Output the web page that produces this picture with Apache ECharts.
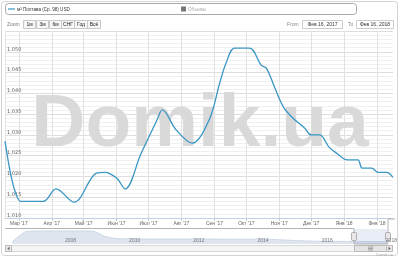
<!DOCTYPE html>
<html><head><meta charset="utf-8">
<script src="https://cdn.jsdelivr.net/npm/echarts@6/dist/echarts.min.js"></script>
<style>html,body{margin:0;padding:0;background:#fff}#c{width:400px;height:258px}</style>
</head><body><div id="c"></div>
<script>
// ---- data ----
const monthNames = ['Янв','Фев','Мар','Апр','Май','Июн','Июл','Авг','Сен','Окт','Ноя','Дек'];
const priceDates = ['2017-02-16','2017-02-21','2017-02-26','2017-03-03','2017-03-24','2017-04-05','2017-04-22',
  '2017-05-13','2017-05-21','2017-06-01','2017-06-09','2017-06-24','2017-07-09','2017-07-14','2017-07-27',
  '2017-08-11','2017-08-27','2017-09-06','2017-09-12','2017-09-20','2017-10-04','2017-10-15','2017-10-20',
  '2017-10-28','2017-11-05','2017-11-14','2017-11-25','2017-12-01','2017-12-09','2017-12-18','2017-12-25',
  '2018-01-04','2018-01-14','2018-01-18','2018-01-27','2018-02-02','2018-02-10','2018-02-16'];
const priceValues = [1028.5,1021,1016,1014,1014,1017,1013.8,
  1020.8,1021,1019.6,1017,1025.5,1033.6,1036,1031.2,
  1028,1033.6,1042.5,1047.3,1050.9,1050.9,1046.8,1046,
  1041.2,1036.7,1034,1031.6,1030,1030,1027,1025.6,
  1024,1024,1022,1022,1021,1021,1019.8];
const navYears = [2006.45,2006.9,2007.5,2008.5,2008.95,2009.35,2009.7,2010.5,2011.5,2012.5,2013.5,2014.3,2015.2,2016.0,2017.0,2018.13];
const navValues = [15,84,87,87,86,50,36,33,33,33,32,32,24,18,17,16];
const navYearTicks = [2008,2010,2012,2014,2016,2018];
const legendName = 'м² Полтава (Ср. 98) USD';
const zoomButtons = ['1м','3м','6м','СНГ','Год','Всё'];
const fromText = 'Фев 16, 2017';
const toText = 'Фев 16, 2018';

// daily categories
const categories = [];
for (let t = Date.UTC(2017,1,16); t <= Date.UTC(2018,1,16); t += 86400000) {
  categories.push(new Date(t).toISOString().slice(0,10));
}
const isMonthStart = (i, v) => v.slice(8) === '01';
const fmtNum = v => Math.floor(v/1000) + ',' + String(v % 1000).padStart(3,'0');

const F = 'Liberation Sans, Arial, sans-serif';
const btnX = [23,36,49,61,74,87], btnW = [12,12,12,13,13,13];
const graphic = [
  {type:'rect', shape:{x:1.5,y:1.5,width:396,height:254,r:3}, style:{fill:'none',stroke:'#d4d4d4',lineWidth:1}, z:-10},
  // legend box
  {type:'rect', shape:{x:5.5,y:3.5,width:351,height:11,r:3}, style:{fill:'#fff',stroke:'#a8a8a8',lineWidth:1}},
  {type:'line', shape:{x1:8,y1:9,x2:15,y2:9}, style:{stroke:'#3a96c3',lineWidth:1.2}},
  {type:'text', style:{text:legendName,x:17,y:9.5,fill:'#333',fontSize:4.6,fontFamily:F,align:'left',verticalAlign:'middle'}},
  {type:'rect', shape:{x:181,y:6.5,width:5,height:5}, style:{fill:'#777'}},
  {type:'text', style:{text:'Объемы',x:188,y:9.5,fill:'#aaa',fontSize:4.6,fontFamily:F,align:'left',verticalAlign:'middle'}},
  // zoom buttons
  {type:'text', style:{text:'Zoom',x:7,y:24.5,fill:'#777',fontSize:5,fontFamily:F,align:'left',verticalAlign:'middle'}},
  // from / to
  {type:'text', style:{text:'From',x:287,y:24.5,fill:'#888',fontSize:5,fontFamily:F,align:'left',verticalAlign:'middle'}},
  {type:'rect', shape:{x:302.5,y:20.5,width:40,height:8}, style:{fill:'#fff',stroke:'#ccc',lineWidth:1}},
  {type:'text', style:{text:fromText,x:322.5,y:24.5,fill:'#333',fontSize:5,fontFamily:F,align:'center',verticalAlign:'middle'}},
  {type:'text', style:{text:'To',x:348,y:24.5,fill:'#888',fontSize:5,fontFamily:F,align:'left',verticalAlign:'middle'}},
  {type:'rect', shape:{x:356.5,y:20.5,width:37,height:8}, style:{fill:'#fff',stroke:'#ccc',lineWidth:1}},
  {type:'text', style:{text:toText,x:375,y:24.5,fill:'#333',fontSize:5,fontFamily:F,align:'center',verticalAlign:'middle'}},
  // watermark
  {type:'text', z:1, silent:true, style:{text:'Domik.ua',x:200,y:125,fill:'#d9d9d9',fontSize:75,fontWeight:'bold',fontFamily:F,align:'center',verticalAlign:'middle'}},
  // navigator mask and outline
  {type:'rect', z:5, shape:{x:354,y:229,width:33,height:15}, style:{fill:'rgba(102,133,194,0.15)'}},
  {type:'polyline', z:6, shape:{points:[[5,228.5],[354,228.5],[354,244],[388,244],[388,219],[395,219]]}, style:{fill:'none',stroke:'#b2b1b6',lineWidth:1}},
  {type:'rect', z:7, shape:{x:351.5,y:232.5,width:5,height:8,r:1}, style:{fill:'#ebe7e8',stroke:'#a0a0a0',lineWidth:0.8}},
  {type:'rect', z:7, shape:{x:385.5,y:232.5,width:5,height:8,r:1}, style:{fill:'#ebe7e8',stroke:'#a0a0a0',lineWidth:0.8}},
  // scrollbar
  {type:'rect', shape:{x:5.5,y:245.5,width:387,height:6}, style:{fill:'#f4f4f4',stroke:'#d8d8d8',lineWidth:1}},
  {type:'rect', shape:{x:5.5,y:245.5,width:6,height:6}, style:{fill:'#ebe7e8',stroke:'#bbb',lineWidth:1}},
  {type:'polygon', shape:{points:[[9.5,246.8],[9.5,250.2],[7.3,248.5]]}, style:{fill:'#666'}},
  {type:'rect', shape:{x:386.5,y:245.5,width:6,height:6}, style:{fill:'#ebe7e8',stroke:'#bbb',lineWidth:1}},
  {type:'polygon', shape:{points:[[388.5,246.8],[388.5,250.2],[390.7,248.5]]}, style:{fill:'#666'}},
  {type:'rect', shape:{x:354.5,y:245.5,width:32,height:6}, style:{fill:'#e4e4e4',stroke:'#bbb',lineWidth:1}},
  {type:'line', shape:{x1:368,y1:247,x2:373,y2:247}, style:{stroke:'#777',lineWidth:0.6}},
  {type:'line', shape:{x1:368,y1:248.5,x2:373,y2:248.5}, style:{stroke:'#777',lineWidth:0.6}},
  {type:'line', shape:{x1:368,y1:250,x2:373,y2:250}, style:{stroke:'#777',lineWidth:0.6}},
  // credits
  {type:'text', style:{text:'Domik.ua',x:393,y:254.5,fill:'#aaa',fontSize:4,fontFamily:F,align:'right',verticalAlign:'middle'}}
];
zoomButtons.forEach((b,i) => {
  graphic.push({type:'rect', shape:{x:btnX[i]+0.5,y:20.5,width:btnW[i],height:8}, style:{fill:'#f7f7f7',stroke:'#c8c8c8',lineWidth:1}});
  graphic.push({type:'text', style:{text:b,x:btnX[i]+0.5+btnW[i]/2,y:24.6,fill:'#222',fontSize:5,fontFamily:F,align:'center',verticalAlign:'middle'}});
});

const chart = echarts.init(document.getElementById('c'), null, {renderer:'canvas'});
chart.setOption({
  animation:false,
  backgroundColor:'#fff',
  grid:[
    {left:5, right:7, top:31, bottom:40},
    {left:0, right:13, top:229, height:15}
  ],
  xAxis:[
    {type:'category', gridIndex:0, data:categories, boundaryGap:false,
     axisLine:{show:true, lineStyle:{color:'#c0d0e0', width:1}},
     axisTick:{show:true, interval:isMonthStart, length:3, lineStyle:{color:'#c0d0e0'}},
     splitLine:{show:true, interval:isMonthStart, lineStyle:{color:'#e2e2e2', width:1}},
     axisLabel:{interval:isMonthStart, margin:3, fontSize:5, fontFamily:F, color:'#666',
       formatter:v => monthNames[+v.slice(5,7)-1] + " '" + v.slice(2,4)}},
    {type:'value', gridIndex:1, min:2006.07, max:2018.13, z:10,
     axisLine:{show:false}, axisTick:{show:false}, splitLine:{show:false},
     axisLabel:{inside:true, customValues:navYearTicks, align:'left', padding:[0,0,0,3], margin:1,
       fontSize:5, fontFamily:F, color:'#777', formatter:v => String(Math.round(v))}}
  ],
  yAxis:[
    {type:'value', gridIndex:0, min:1010, max:1055, interval:5,
     axisLine:{show:true, lineStyle:{color:'#e2e2e2'}}, axisTick:{show:false},
     splitLine:{show:true, lineStyle:{color:'#dedede', width:1}},
     minorTick:{show:false, splitNumber:5},
     minorSplitLine:{show:true, lineStyle:{color:'#f0f0f0', width:1}},
     axisLabel:{inside:true, showMaxLabel:false, margin:2, align:'left', verticalAlign:'bottom',
       fontSize:5, fontFamily:'DejaVu Sans, sans-serif', color:'#666', formatter:fmtNum}},
    {type:'value', gridIndex:1, min:0, max:100, show:false}
  ],
  series:[
    {type:'line', xAxisIndex:0, yAxisIndex:0, z:3, data:priceDates.map((d,i)=>[d, priceValues[i]]),
     smooth:0.35, symbol:'none', lineStyle:{color:'#3a96c3', width:1.3}},
    {type:'line', xAxisIndex:1, yAxisIndex:1, z:1, data:navYears.map((y,i)=>[y, navValues[i]]),
     smooth:0.2, symbol:'none', lineStyle:{color:'#c5d1e2', width:0.8},
     areaStyle:{color:'#dee5ef', opacity:1}}
  ],
  graphic:graphic
});
</script></body></html>
